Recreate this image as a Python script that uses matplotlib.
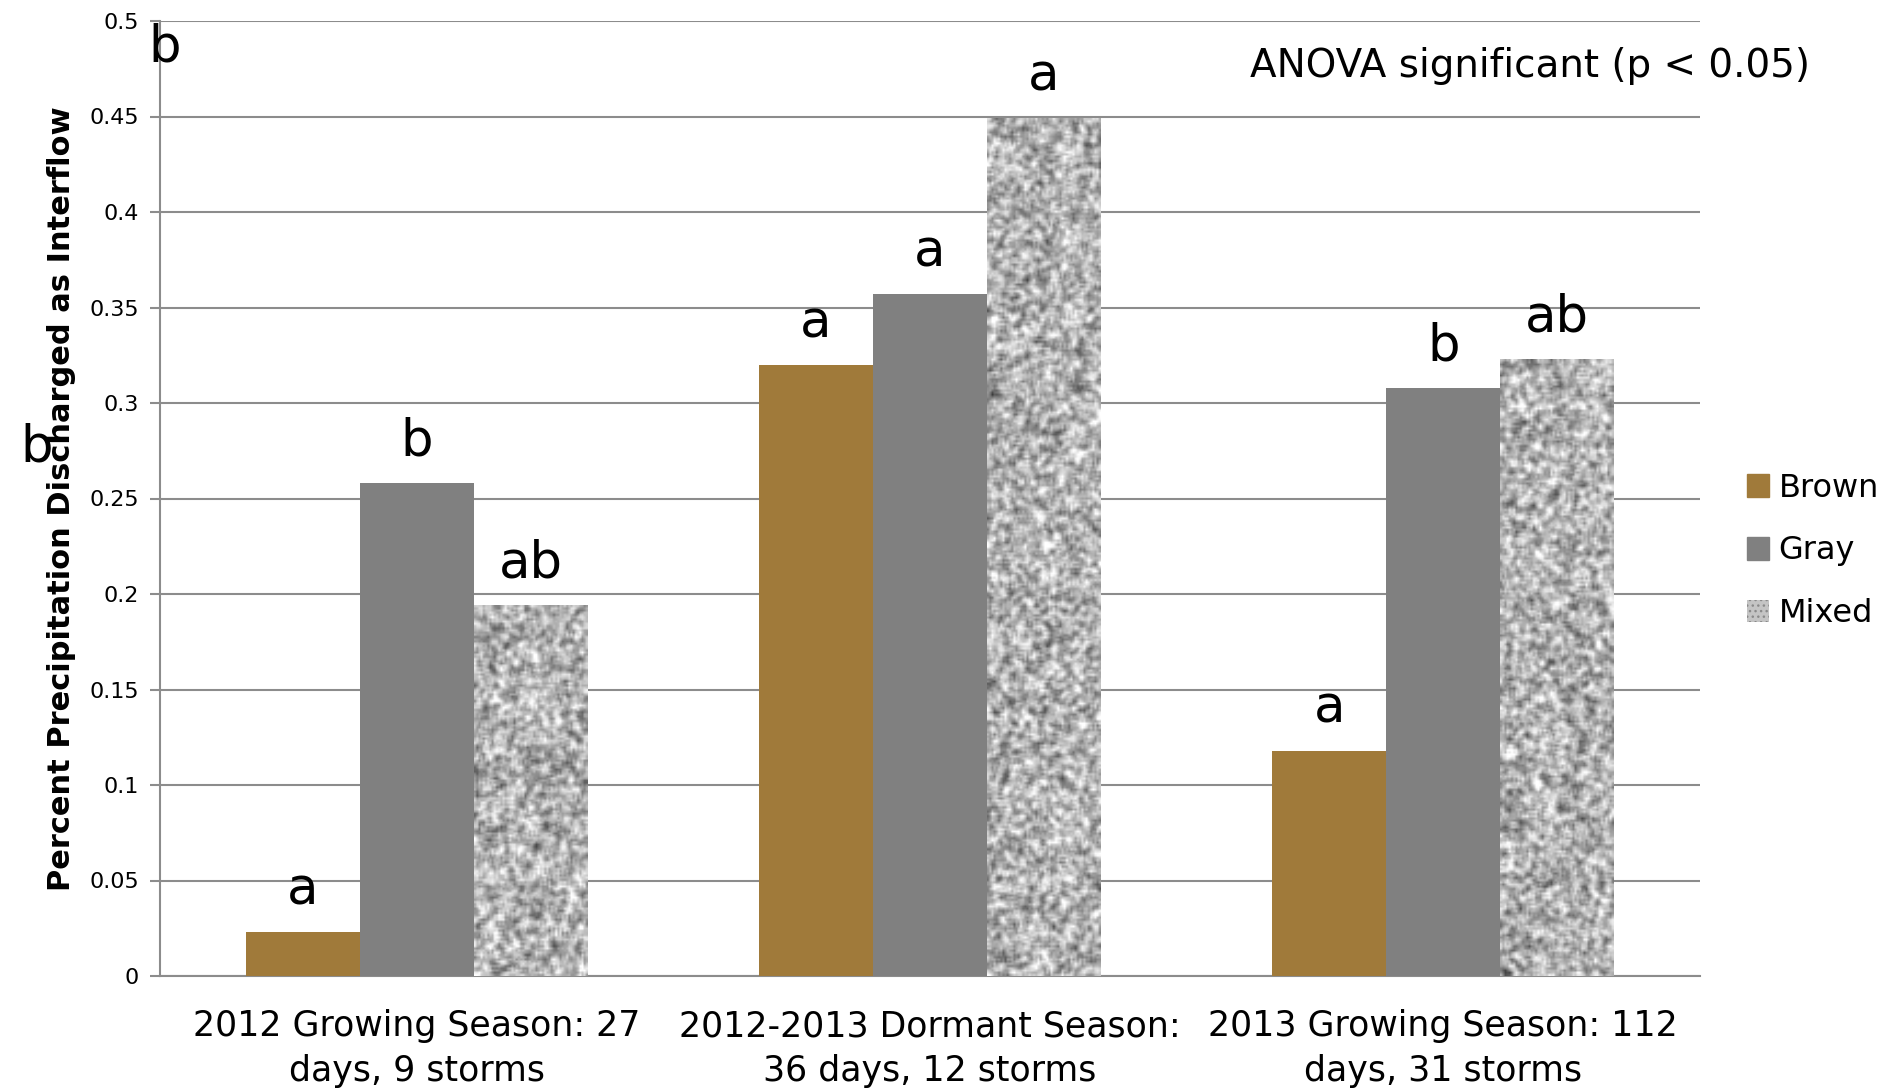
import numpy as np
import matplotlib.pyplot as plt
from matplotlib.patches import Patch

categories = ["2012 Growing Season: 27\ndays, 9 storms",
              "2012-2013 Dormant Season:\n36 days, 12 storms",
              "2013 Growing Season: 112\ndays, 31 storms"]
series = ["Brown", "Gray", "Mixed"]
brown = [0.023, 0.320, 0.118]
gray = [0.258, 0.357, 0.308]
mixed = [0.194, 0.449, 0.323]
letters_brown = ["a", "a", "a"]
letters_gray = ["b", "a", "b"]
letters_mixed = ["ab", "a", "ab"]
yticks = [0, 0.05, 0.1, 0.15, 0.2, 0.25, 0.3, 0.35, 0.4, 0.45, 0.5]
ytick_labels = ["0", "0.05", "0.1", "0.15", "0.2", "0.25", "0.3", "0.35", "0.4", "0.45", "0.5"]

W, H = 1893, 1091
fig = plt.figure(figsize=(W / 100, H / 100), dpi=100)
ax = fig.add_axes([160 / W, 1 - 976 / H, 1540 / W, 955 / H])

grid_c = "#8c8c8c"
bw = 0.222
x = np.arange(len(categories))

ax.bar(x - bw, brown, bw, color="#a07a3a", zorder=3)
ax.bar(x, gray, bw, color="#808080", zorder=3)
mbars = ax.bar(x + bw, mixed, bw, color="#b8b8b8", zorder=3)

# speckled texture for the mixed bars (about 2 px grain)
rng = np.random.default_rng(7)
for b in mbars:
    rows = int(b.get_height() / 0.5 * 955 / 2.2)
    cols = 52
    n = rng.random((rows + 2, cols + 2))
    sm = sum(n[i:i + rows, j:j + cols] for i in range(3) for j in range(3)) / 9
    sm = (sm - sm.mean()) / sm.std()
    img = ax.imshow(sm, cmap="gray", vmin=-5.6, vmax=2.4, aspect="auto",
                    extent=[b.get_x(), b.get_x() + b.get_width(), 0, b.get_height()],
                    interpolation="bilinear", zorder=4)
    img.set_clip_path(b)

for vals, labs, off in [(brown, letters_brown, -bw), (gray, letters_gray, 0), (mixed, letters_mixed, bw)]:
    for xi, v, t in zip(x, vals, labs):
        ax.annotate(t, (xi + off, v), xytext=(0, 12), textcoords="offset points",
                    ha="center", va="bottom", fontsize=37, zorder=5)

ax.set_xlim(-0.5, 2.5)
ax.set_ylim(0, 0.5)
ax.set_yticks(yticks)
ax.set_yticklabels(ytick_labels, fontsize=16)
ax.set_xticks(x)
ax.set_xticklabels(categories, fontsize=25, linespacing=1.4)
ax.tick_params(axis="x", length=0, pad=24)
ax.tick_params(axis="y", length=7, width=1.5, color=grid_c, pad=8)
ax.yaxis.grid(True, color=grid_c, linewidth=1.5, zorder=0)
ax.set_axisbelow(True)
for s in ["top", "right"]:
    ax.spines[s].set_visible(False)
for s in ["left", "bottom"]:
    ax.spines[s].set_color(grid_c)
    ax.spines[s].set_linewidth(1.5)

ax.set_ylabel("Percent Precipitation Discharged as Interflow", fontsize=22,
              fontweight="bold", labelpad=10)

handles = [Patch(color="#a07a3a"), Patch(color="#808080"),
           Patch(facecolor="#c4c4c4", hatch="...", edgecolor="#8a8a8a", linewidth=0)]
fig.legend(handles, series, loc="center left", bbox_to_anchor=(1718 / W, 1 - 551 / H),
           frameon=False, fontsize=23, handlelength=0.7, handleheight=0.7,
           handletextpad=0.3, labelspacing=1.0)

fig.text(1530 / W, 1 - 66 / H, "ANOVA significant (p < 0.05)", fontsize=28,
         ha="center", va="center")
fig.text(148 / W, 1 - 62 / H, "b", fontsize=37, ha="left", va="baseline")
fig.text(20 / W, 1 - 462 / H, "b", fontsize=37, ha="left", va="baseline")

fig.savefig("out.png", dpi=100)
